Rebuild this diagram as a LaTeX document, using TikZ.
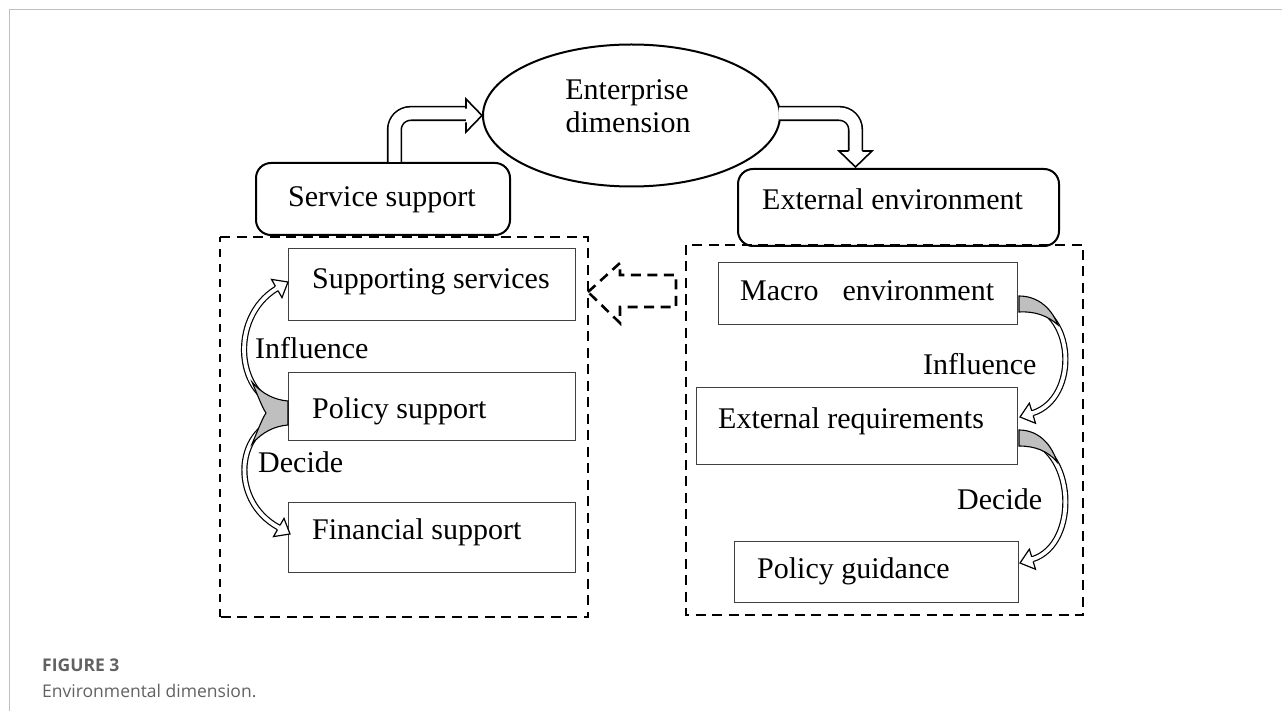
\documentclass[tikz,border=0pt]{standalone}
\usepackage{fontspec}
\setmainfont{Liberation Serif}
\newfontfamily\capfont{Open Sans}
\usetikzlibrary{shapes.geometric}
\begin{document}
\begin{tikzpicture}[x=1pt,y=-1pt,
  txt/.style={font=\fontsize{30}{33}\selectfont, inner sep=0pt, anchor=base west},
  ctxt/.style={font=\fontsize{30}{33}\selectfont, inner sep=0pt, anchor=base},
  rbox/.style={draw, line width=2pt, rounded corners=15pt, anchor=north west, inner sep=0pt},
  sbox/.style={draw=black!75, line width=1.3pt, anchor=north west, inner sep=0pt},
  dthick/.style={line width=2.6pt, dash pattern=on 10pt off 6.5pt},
  dthin/.style={line width=1.3pt, dash pattern=on 8pt off 7pt},
  blk/.style={line width=1.6pt, double=white, double distance=12pt, rounded corners=16pt},
  cshaft/.style={line width=1.2pt, double=white, double distance=3.8pt},
  wedge/.style={draw, fill=black!25, line width=1.1pt},
  bighead/.pic={\filldraw[fill=white, line width=1.6pt, line join=miter] (-16,6.8) -- (-16,16.5) -- (0,0) -- (-16,-16.5) -- (-16,-6.8);},
  smallhead/.pic={\filldraw[fill=white, line width=1.2pt, line join=miter] (-13,2.5) -- (-13,10.5) -- (0,0) -- (-13,-10.5) -- (-13,-2.5);},
  capbold/.style={font=\capfont\bfseries\fontsize{17.5}{20}\selectfont, text=black!62, inner sep=0pt, anchor=base west},
  capnorm/.style={font=\capfont\fontsize{17.5}{20}\selectfont, text=black!62, inner sep=0pt, anchor=base west},
]
\useasboundingbox (0,0) rectangle (1282,711);
% frame
\draw[black!25, line width=1.5pt] (9.3,711) -- (9.3,9.3) -- (1282,9.3);

% ellipse
\node[draw, ellipse, line width=2pt, minimum width=297pt, minimum height=142pt, inner sep=0pt] (ent) at (631.5,115.5) {};
\node[ctxt] (entA) at (627,100) {Enterprise};
\node[ctxt] (entB) at (628,133) {dimension};

% rounded boxes
\node[rbox, minimum width=254pt, minimum height=72pt] (svc) at (255,162) {};
\node[rbox, minimum width=321pt, minimum height=77pt] (ext) at (737,168) {};
\node[txt] (tsvc) at (288,207) {Service support};
\node[txt] (text) at (762,210) {External environment};

% dashed groups
\draw[dthick] (220,237) -- (588,237) -- (588,617) -- (220,617);
\draw[dthin] (220,617) -- (220,237);
\draw[dthick] (686,245) rectangle (1083,615);

% inner boxes
\node[sbox, minimum width=287pt, minimum height=72pt] (supp) at (288,248) {};
\node[sbox, minimum width=287pt, minimum height=68pt] (pol) at (288,372) {};
\node[sbox, minimum width=287pt, minimum height=70pt] (fin) at (288,502) {};
\node[sbox, minimum width=299pt, minimum height=62pt] (mac) at (718,262) {};
\node[sbox, minimum width=321pt, minimum height=77pt] (exr) at (696,387) {};
\node[sbox, minimum width=284pt, minimum height=61pt] (pgd) at (734,541) {};
\node[txt] (tsupp) at (312,289) {Supporting services};
\node[txt] (tpol) at (312,418) {Policy support};
\node[txt] (tfin) at (312,539) {Financial support};
\node[txt] (tmac) at (740,301) {Macro\hspace{24pt}environment};
\node[txt] (texr) at (718,428) {External requirements};
\node[txt] (tpgd) at (757,578) {Policy guidance};

% labels
\node[txt] (infL) at (255,358) {Influence};
\node[txt] (decL) at (258,472) {Decide};
\node[txt] (infR) at (923,374) {Influence};
\node[txt] (decR) at (957,509) {Decide};

% top block arrows
\coordinate (la0) at (394.5,162);
\coordinate (la1) at (394.5,113.5);
\coordinate (la2) at (467,113.5);
\draw[blk] (la0) -- (la1) -- (la2);
\pic at (ent.west) {bighead};
\coordinate (ra0) at (779,113.5);
\coordinate (ra1) at (855.5,113.5);
\coordinate (ra2) at (855.5,151);
\draw[blk] (ra0) -- (ra1) -- (ra2);
\pic[rotate=-90] at (855.5,167) {bighead};

% left curved arrows
\draw[cshaft] (286,407) .. controls (236,400) and (228,318) .. (276.7,288.5);
\pic[rotate=30] at (288,282) {smallhead};
\draw[cshaft] (286,418) .. controls (236,425) and (228,500) .. (278.7,527.5);
\pic[rotate=-30] at (290,534) {smallhead};
\draw[wedge] (288,401) .. controls (275,400) and (262,394) .. (252,382) .. controls (258,396) and (262,407) .. (266,413) .. controls (262,419) and (258,430) .. (252,444) .. controls (262,432) and (275,426) .. (288,425) -- cycle;

% right curved arrows
\draw[cshaft] (1021,303) .. controls (1076,306) and (1080,398.5) .. (1032.4,413.2);
\pic[rotate=197] at (1020,417) {smallhead};
\draw[cshaft] (1021,438) .. controls (1076,445) and (1080,544.5) .. (1032.4,559.2);
\pic[rotate=197] at (1020,563) {smallhead};
\draw[wedge] (1019,296) .. controls (1035,296) and (1050,305) .. (1058,325) .. controls (1048,316) and (1035,311) .. (1019,312) -- cycle;
\draw[wedge] (1019,430) .. controls (1035,430) and (1050,440) .. (1057,462) .. controls (1048,451) and (1035,446) .. (1019,446) -- cycle;

% dashed block arrow
\draw[dthick] (588,292) -- (620,263) -- (620,275) -- (676,275) -- (676,307) -- (620,307) -- (620,323) -- cycle;

% caption
\node[capbold] (figlbl) at (42,671) {FIGURE 3};
\node[capnorm] (figcap) at (42,697) {Environmental dimension.};
\end{tikzpicture}
\end{document}
